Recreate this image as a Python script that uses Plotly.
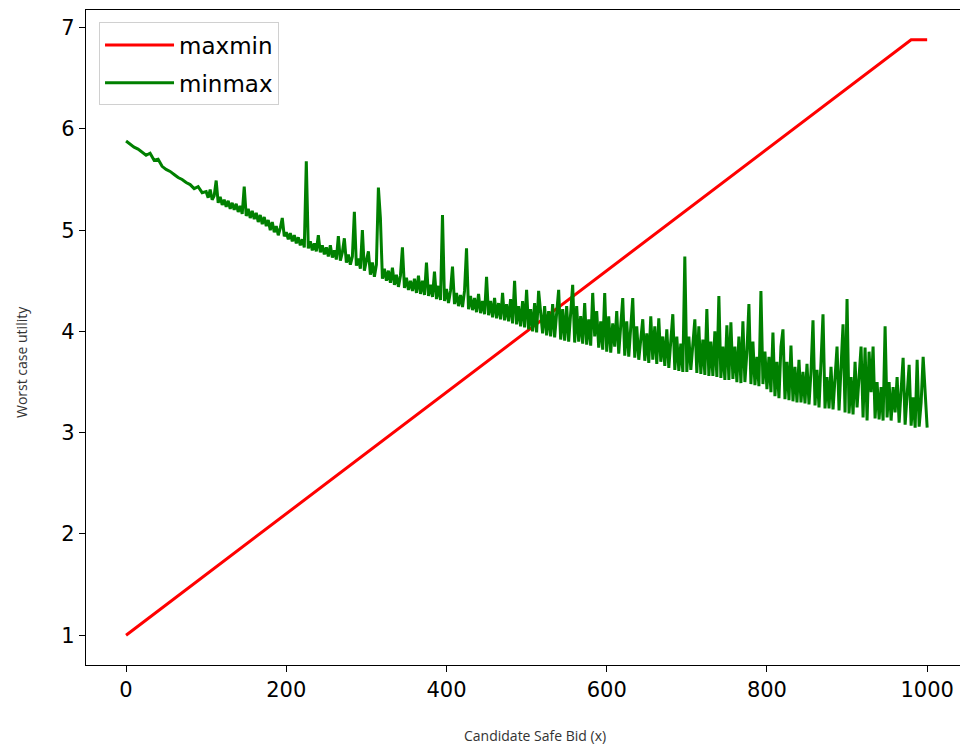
import plotly.graph_objects as go

# maxmin (red) line
maxmin_x = [0, 980, 1000]
maxmin_y = [1.0, 6.88, 6.88]

# minmax (green) noisy line: every 5 units up to 95, then every 2.5 units to 1000
minmax_x = list(range(0, 100, 5)) + [100 + 2.5 * i for i in range(361)]
minmax_y = [
    # 0 - 95 (step 5)
    5.88, 5.85, 5.82, 5.80, 5.77, 5.74, 5.76, 5.69, 5.70, 5.63,
    5.60, 5.58, 5.55, 5.52, 5.50, 5.47, 5.45, 5.41, 5.43, 5.37,
    # from 100 on (step 2.5), 10 values per row
    5.38, 5.32, 5.40, 5.30, 5.34, 5.49, 5.27, 5.33, 5.25, 5.30,   # 100
    5.23, 5.29, 5.21, 5.27, 5.20, 5.26, 5.18, 5.24, 5.16, 5.43,   # 125
    5.14, 5.21, 5.12, 5.19, 5.11, 5.17, 5.08, 5.15, 5.06, 5.13,   # 150
    5.04, 5.10, 5.00, 5.08, 4.98, 5.04, 4.95, 5.02, 5.12, 4.94,   # 175
    4.98, 4.91, 4.97, 4.89, 4.95, 4.87, 4.93, 4.85, 4.91, 4.83,   # 200
    5.68, 4.82, 4.89, 4.80, 4.87, 4.79, 4.95, 4.78, 4.85, 4.76,   # 225
    4.83, 4.74, 4.85, 4.73, 4.80, 4.71, 4.94, 4.70, 4.78, 4.92,   # 250
    4.68, 4.76, 4.66, 4.74, 5.18, 4.65, 4.72, 4.62, 5.00, 4.60,   # 275
    4.70, 4.79, 4.56, 4.68, 4.54, 4.66, 5.42, 5.12, 4.52, 4.62,   # 300
    4.50, 4.60, 4.48, 4.63, 4.46, 4.56, 4.44, 4.55, 4.83, 4.43,   # 325
    4.53, 4.41, 4.50, 4.40, 4.52, 4.38, 4.55, 4.37, 4.50, 4.36,   # 350
    4.68, 4.35, 4.46, 4.34, 4.59, 4.32, 4.45, 4.31, 5.15, 4.30,   # 375
    4.42, 4.28, 4.40, 4.64, 4.27, 4.38, 4.25, 4.36, 4.24, 4.40,   # 400
    4.82, 4.22, 4.35, 4.21, 4.33, 4.19, 4.37, 4.18, 4.30, 4.17,   # 425
    4.54, 4.16, 4.30, 4.14, 4.33, 4.13, 4.28, 4.12, 4.38, 4.11,   # 450
    4.27, 4.10, 4.32, 4.08, 4.50, 4.07, 4.25, 4.05, 4.30, 4.04,   # 475
    4.41, 4.02, 4.22, 4.00, 4.28, 3.99, 4.40, 4.15, 3.98, 4.25,   # 500
    3.96, 4.20, 3.95, 4.27, 3.94, 4.18, 4.41, 3.92, 4.22, 3.91,   # 525
    4.25, 3.90, 4.18, 4.46, 3.89, 4.25, 3.90, 4.15, 3.88, 4.28,   # 550
    3.87, 4.12, 3.86, 4.38, 3.95, 4.20, 3.84, 4.10, 3.82, 4.38,   # 575
    3.80, 4.15, 3.79, 4.08, 3.85, 4.20, 3.78, 4.05, 4.33, 3.76,   # 600
    4.10, 3.75, 4.00, 4.33, 3.74, 4.05, 3.72, 3.95, 4.12, 3.71,   # 625
    3.98, 3.69, 4.15, 3.72, 4.05, 3.68, 4.13, 3.70, 3.95, 3.66,   # 650
    4.02, 3.64, 3.90, 4.17, 3.62, 3.95, 3.61, 3.88, 3.60, 4.74,   # 675
    3.60, 3.95, 3.62, 3.85, 4.12, 3.59, 4.05, 3.58, 3.92, 3.57,   # 700
    4.22, 3.56, 3.90, 3.56, 4.00, 3.55, 4.35, 3.54, 3.85, 3.52,   # 725
    4.06, 3.52, 4.09, 3.53, 3.85, 3.50, 3.95, 3.49, 4.10, 3.50,   # 750
    3.80, 4.27, 3.48, 3.90, 3.47, 3.75, 3.46, 4.40, 3.48, 3.80,   # 775
    3.43, 3.75, 3.40, 3.99, 3.36, 3.70, 3.34, 3.85, 4.02, 3.33,   # 800
    3.70, 3.32, 3.86, 3.31, 3.65, 3.30, 3.72, 3.30, 3.60, 3.29,   # 825
    3.68, 3.28, 3.60, 4.11, 3.27, 3.62, 3.25, 3.70, 4.17, 3.24,   # 850
    3.55, 3.24, 3.65, 3.23, 3.50, 3.85, 3.22, 3.60, 4.07, 3.20,   # 875
    4.32, 3.19, 3.55, 3.18, 3.70, 3.25, 3.60, 3.85, 3.15, 3.84,   # 900
    3.12, 3.80, 3.40, 3.85, 3.14, 3.50, 3.13, 3.45, 3.12, 4.05,   # 925
    3.15, 3.50, 3.12, 3.45, 3.20, 3.55, 3.10, 3.40, 3.74, 3.08,   # 950
    3.40, 3.67, 3.07, 3.35, 3.05, 3.72, 3.06, 3.30, 3.75, 3.35,   # 975
    3.05,                                                         # 1000
]

x_ticks = [0, 200, 400, 600, 800, 1000]
y_ticks = [1, 2, 3, 4, 5, 6, 7]

fig = go.Figure()
fig.add_trace(go.Scatter(x=maxmin_x, y=maxmin_y, mode="lines", name="maxmin",
                         line=dict(color="#ff0000", width=3), legendgroup="a"))
fig.add_trace(go.Scatter(x=minmax_x, y=minmax_y, mode="lines", name="minmax",
                         line=dict(color="#008000", width=3), legendgroup="b"))

tick_font = dict(family="DejaVu Sans", size=21, color="black")

fig.update_layout(
    width=960, height=746,
    margin=dict(l=86, r=0, t=10, b=81),
    paper_bgcolor="white", plot_bgcolor="white",
    showlegend=True,
    legend=dict(x=0.0149, y=0.981, xanchor="left", yanchor="top",
                bgcolor="white", bordercolor="#d0d0d0", borderwidth=1,
                font=dict(family="DejaVu Sans", size=23, color="black"),
                itemwidth=69, tracegroupgap=5, traceorder="grouped"),
    xaxis=dict(range=[-50, 1041], tickvals=x_ticks, ticktext=[str(v) for v in x_ticks],
               showgrid=False, zeroline=False, showline=True, mirror=True,
               linecolor="black", linewidth=1.3, ticks="outside", ticklen=6,
               tickwidth=1.3, tickcolor="black", tickfont=tick_font),
    yaxis=dict(range=[0.706, 7.174], tickvals=y_ticks, ticktext=[str(v) for v in y_ticks],
               showgrid=False, zeroline=False, showline=True, mirror=False,
               linecolor="black", linewidth=1.3, ticks="outside", ticklen=6,
               tickwidth=1.3, tickcolor="black", tickfont=tick_font),
    annotations=[
        dict(text="Candidate Safe Bid (x)", xref="paper", yref="paper",
             x=(535 - 86) / 874, y=-(735 - 665) / 655, xanchor="center", yanchor="middle",
             showarrow=False, font=dict(family="Open Sans", size=14, color="#333333")),
        dict(text="Worst case utility", xref="paper", yref="paper",
             x=-(86 - 22) / 874, y=(665 - 362) / 655, xanchor="center", yanchor="middle",
             textangle=-90, showarrow=False,
             font=dict(family="Open Sans", size=14, color="#333333")),
    ],
)

fig.write_html("out.html")
